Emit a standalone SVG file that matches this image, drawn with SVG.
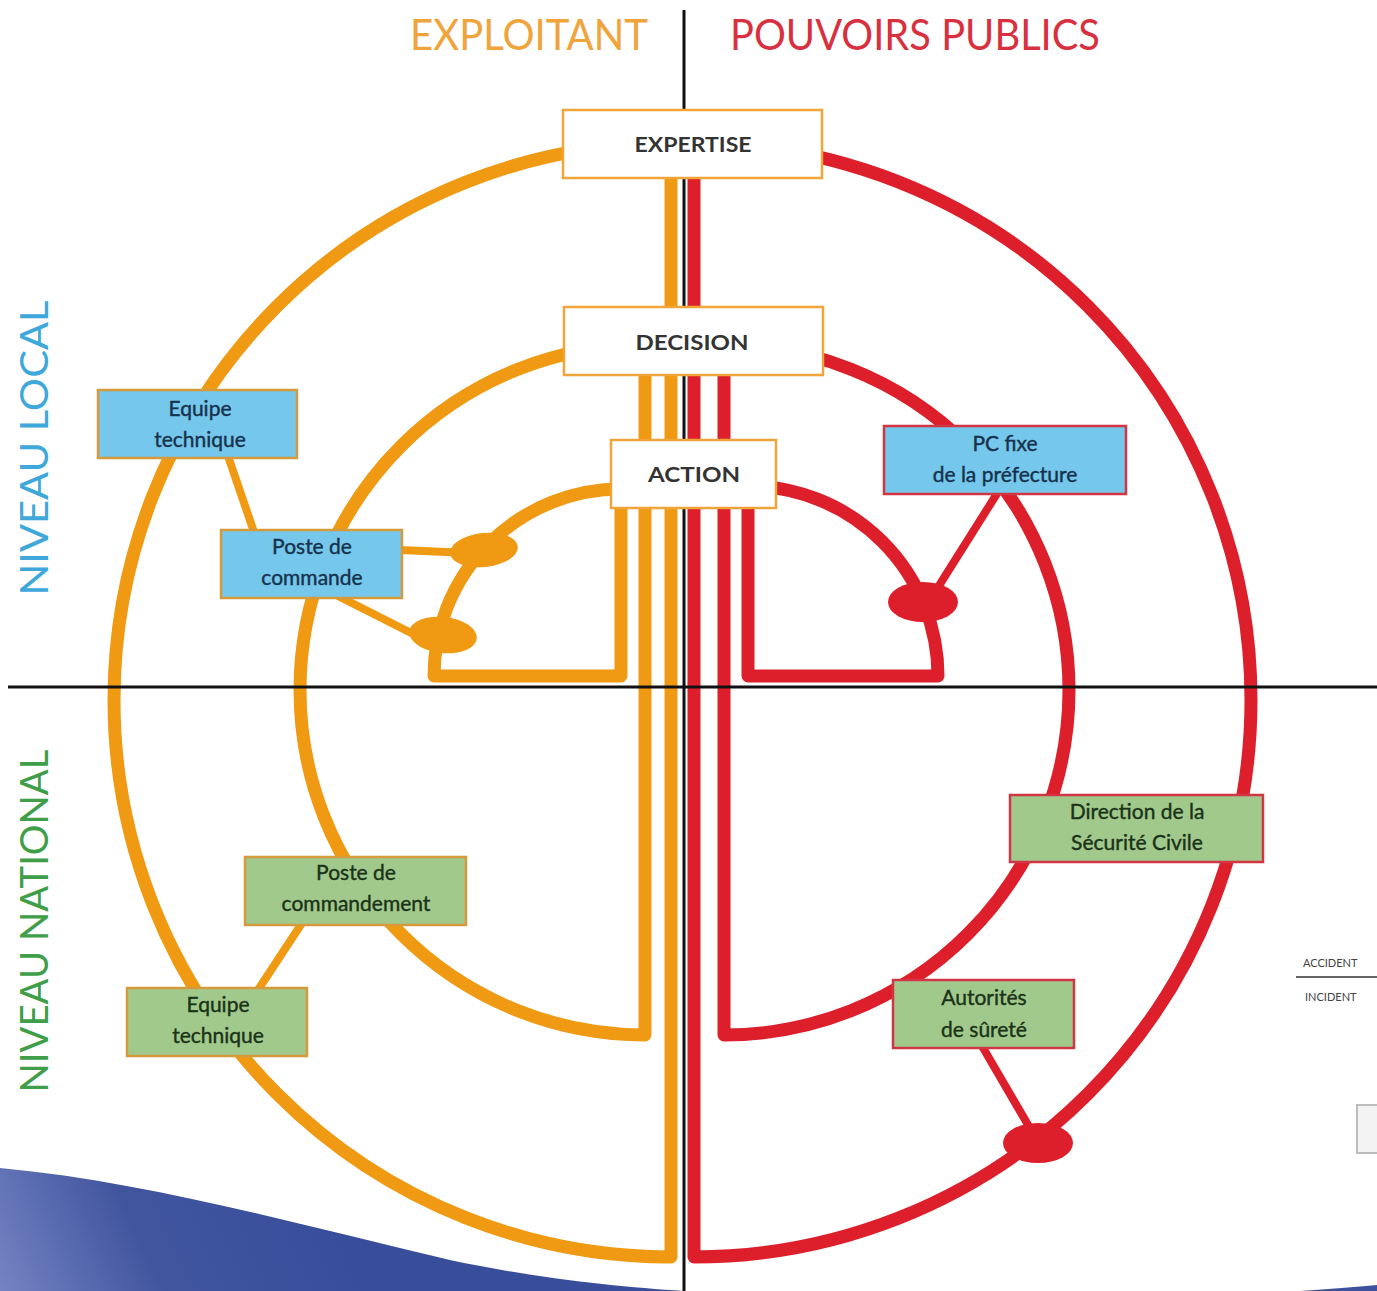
<svg xmlns="http://www.w3.org/2000/svg" width="1377" height="1291" viewBox="0 0 1377 1291">
  <style>
    .org { fill: none; stroke: #ef9a12; stroke-width: 13; stroke-linejoin: round; }
    .red { fill: none; stroke: #dc1f2a; stroke-width: 13; stroke-linejoin: round; }
    .lnk-o { stroke: #ef9a12; stroke-width: 8; }
    .lnk-r { stroke: #dc1f2a; stroke-width: 8; }
    .axis { stroke: #111; stroke-width: 3; }
    .stage rect { fill: #ffffff; stroke: #f0a43a; stroke-width: 2.5; }
    .stage text { font-family: Lato, "Liberation Sans", sans-serif; font-weight: 700; font-size: 21px; fill: #333; text-anchor: middle; }
    .blue rect { fill: #76c7ec; stroke-width: 2.5; }
    .green rect { fill: #a2c98c; stroke-width: 2.5; }
    .blue text { font-family: Lato, "Liberation Sans", sans-serif; font-size: 21px; fill: #16324c; text-anchor: middle; stroke: #16324c; stroke-width: 0.4; }
    .green text { font-family: Lato, "Liberation Sans", sans-serif; font-size: 21px; fill: #1a3318; text-anchor: middle; stroke: #1a3318; stroke-width: 0.4; }
    .eo rect { stroke: #d49a3c; }
    .er rect { stroke: #d23644; }
    .head { font-family: Lato, "Liberation Sans", sans-serif; font-size: 42px; }
    .side { font-family: Lato, "Liberation Sans", sans-serif; font-size: 39px; text-anchor: middle; }
    .small { font-family: Lato, "Liberation Sans", sans-serif; font-size: 11px; fill: #444; }
  </style>
  <defs>
    <linearGradient id="waveFill" x1="0" y1="1291" x2="300" y2="1150" gradientUnits="userSpaceOnUse">
      <stop offset="0" stop-color="#7483c2"/>
      <stop offset="0.45" stop-color="#41559f"/>
      <stop offset="1" stop-color="#394e9b"/>
    </linearGradient>
  </defs>

  <rect width="1377" height="1291" fill="#ffffff"/>

  <!-- bottom band -->
  <path d="M0,1168 C150,1182 300,1225 450,1260 C540,1279 620,1287 684,1291 L0,1291 Z" fill="url(#waveFill)"/>
  <path d="M1300,1291 C1330,1289 1355,1287 1377,1285 L1377,1291 Z" fill="#3d519c"/>

  <!-- column / row headings -->
  <text class="head" x="410" y="50" fill="#f0a43c" textLength="238" lengthAdjust="spacingAndGlyphs">EXPLOITANT</text>
  <text class="head" x="730" y="50" fill="#d8303e" textLength="370" lengthAdjust="spacingAndGlyphs">POUVOIRS PUBLICS</text>
  <text class="side" transform="translate(48,448) rotate(-90)" fill="#3ea8db" textLength="295" lengthAdjust="spacingAndGlyphs">NIVEAU LOCAL</text>
  <text class="side" transform="translate(48,921) rotate(-90)" fill="#3f9e48" textLength="343" lengthAdjust="spacingAndGlyphs">NIVEAU NATIONAL</text>

  <!-- scale fragment at the right edge -->
  <text class="small" x="1303" y="967">ACCIDENT</text>
  <line x1="1296" y1="977" x2="1377" y2="977" stroke="#666" stroke-width="2"/>
  <text class="small" x="1305" y="1001">INCIDENT</text>
  <rect x="1357" y="1105" width="30" height="48" fill="#f3f3f3" stroke="#bcbcbc" stroke-width="2"/>

  <g id="connectors">
    <!-- operator side: expertise, decision, action rings -->
    <path class="org" d="M671,143 A557,557 0 0 0 671,1257 Z"/>
    <path class="org" d="M645,345 A345,345 0 0 0 645,1035 Z"/>
    <path class="org" d="M621,489 A187,187 0 0 0 434,676 L621,676 Z"/>
    <!-- public authority side -->
    <path class="red" d="M694,143 A557,557 0 0 1 694,1257 Z"/>
    <path class="red" d="M724,345 A345,345 0 0 1 724,1035 Z"/>
    <path class="red" d="M748,486 A190,190 0 0 1 938,676 L748,676 Z"/>

    <!-- links between services and rings -->
    <line class="lnk-o" x1="228" y1="456" x2="254" y2="532"/>
    <line class="lnk-o" x1="400" y1="550" x2="470" y2="553"/>
    <line class="lnk-o" x1="338" y1="596" x2="425" y2="640"/>
    <line class="lnk-o" x1="302" y1="923" x2="258" y2="990"/>
    <line class="lnk-r" x1="998" y1="492" x2="930" y2="600"/>
    <line class="lnk-r" x1="982" y1="1046" x2="1038" y2="1142"/>

    <ellipse cx="484" cy="550" rx="34" ry="17" fill="#ef9a12" transform="rotate(-6 484 550)"/>
    <ellipse cx="443" cy="635" rx="34" ry="18" fill="#ef9a12" transform="rotate(6 443 635)"/>
    <ellipse cx="923" cy="602" rx="35" ry="20" fill="#dc1f2a"/>
    <ellipse cx="1038" cy="1143" rx="35" ry="20" fill="#dc1f2a"/>
  </g>

  <g id="axes">
    <line class="axis" x1="684" y1="10" x2="684" y2="1291"/>
    <line class="axis" x1="8" y1="687" x2="1377" y2="687"/>
  </g>

  <g id="expertise" class="stage">
    <rect x="563" y="110" width="259" height="68"/>
    <text x="693" y="152" textLength="117" lengthAdjust="spacingAndGlyphs">EXPERTISE</text>
  </g>
  <g id="decision" class="stage">
    <rect x="564" y="307" width="259" height="68"/>
    <text x="692" y="350" textLength="113" lengthAdjust="spacingAndGlyphs">DECISION</text>
  </g>
  <g id="action" class="stage">
    <rect x="611" y="440" width="165" height="68"/>
    <text x="694" y="482" textLength="92" lengthAdjust="spacingAndGlyphs">ACTION</text>
  </g>

  <g id="equipe-technique-local" class="blue eo">
    <rect x="98" y="390" width="199" height="68"/>
    <text x="200" y="416">Equipe</text>
    <text x="200" y="447">technique</text>
  </g>
  <g id="poste-de-commande" class="blue eo">
    <rect x="221" y="530" width="181" height="68"/>
    <text x="312" y="554">Poste de</text>
    <text x="312" y="585">commande</text>
  </g>
  <g id="pc-fixe-prefecture" class="blue er">
    <rect x="884" y="426" width="242" height="68"/>
    <text x="1005" y="451">PC fixe</text>
    <text x="1005" y="482">de la préfecture</text>
  </g>
  <g id="direction-securite-civile" class="green er">
    <rect x="1010" y="795" width="253" height="67"/>
    <text x="1137" y="819">Direction de la</text>
    <text x="1137" y="850">Sécurité Civile</text>
  </g>
  <g id="autorites-surete" class="green er">
    <rect x="893" y="980" width="181" height="68"/>
    <text x="984" y="1005">Autorités</text>
    <text x="984" y="1037">de sûreté</text>
  </g>
  <g id="poste-de-commandement" class="green eo">
    <rect x="245" y="857" width="221" height="68"/>
    <text x="356" y="880">Poste de</text>
    <text x="356" y="911">commandement</text>
  </g>
  <g id="equipe-technique-national" class="green eo">
    <rect x="127" y="988" width="180" height="68"/>
    <text x="218" y="1012">Equipe</text>
    <text x="218" y="1043">technique</text>
  </g>
</svg>
